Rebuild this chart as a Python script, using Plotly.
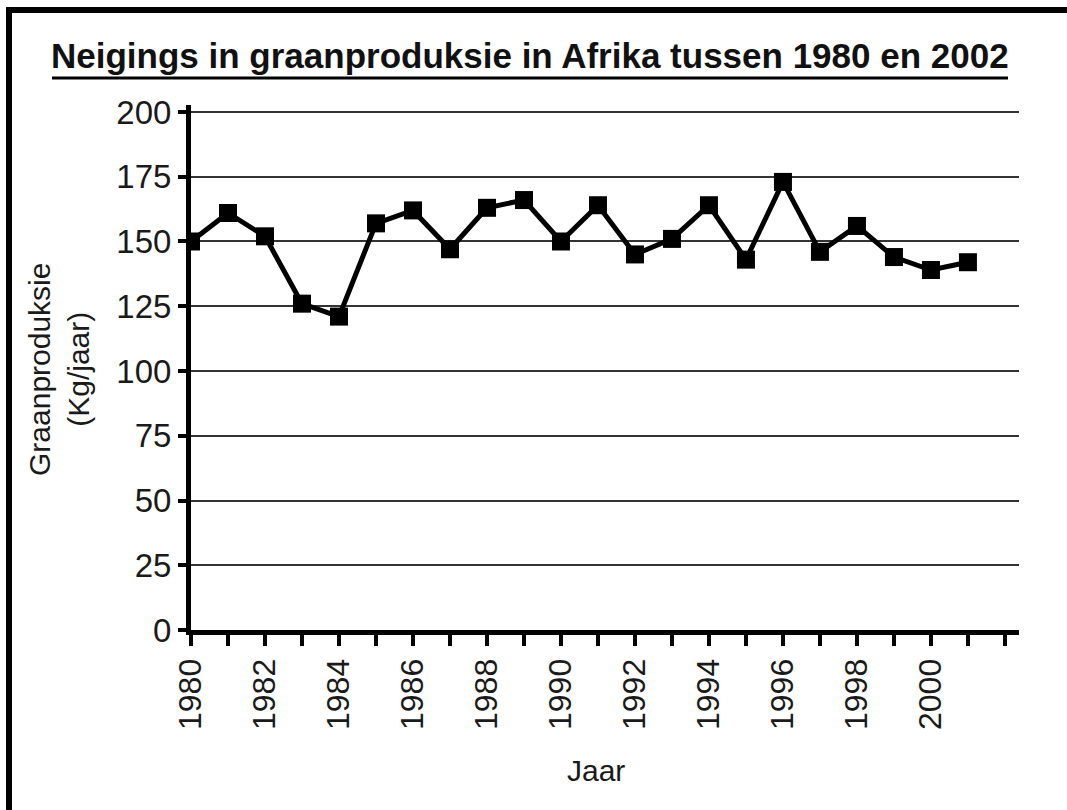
import plotly.graph_objects as go

years = list(range(1980, 2002))
production = [150, 161, 152, 126, 121, 157, 162, 147, 163, 166, 150, 164,
              145, 151, 164, 143, 173, 146, 156, 144, 139, 142]

tick_years = list(range(1980, 2003))
tick_labels = [str(y) if (y % 2 == 0 and y <= 2000) else "" for y in tick_years]
y_ticks = [0, 25, 50, 75, 100, 125, 150, 175, 200]

title_text = "Neigings in graanproduksie in Afrika tussen 1980 en 2002"
y_title = "Graanproduksie<br>(Kg/jaar)"
x_title = "Jaar"

W, H = 1067, 810
L, R, T, B = 191, 48, 105, 180
PW, PH = W - L - R, H - T - B

def px(x):
    return (x - L) / PW

def py(y):
    return (H - B - y) / PH

FONT = "Liberation Sans, Arial, sans-serif"

fig = go.Figure()
fig.add_trace(go.Scatter(
    x=years, y=production, mode="lines+markers",
    line=dict(color="black", width=5),
    marker=dict(symbol="square", size=18, color="black"),
    showlegend=False, hoverinfo="x+y",
))

fig.update_layout(
    width=W, height=H,
    margin=dict(l=L, r=R, t=T, b=B),
    paper_bgcolor="white", plot_bgcolor="white",
    font=dict(family=FONT, color="#1a1a1a"),
    xaxis=dict(
        range=[1980, 2002.38], tickmode="array", tickvals=tick_years,
        ticktext=tick_labels, tickangle=-90, ticks="outside", ticklen=11,
        tickwidth=4, tickcolor="black", showline=True, linewidth=5,
        linecolor="black", showgrid=False, zeroline=False,
        tickfont=dict(size=32, family=FONT, color="#1a1a1a"),
    ),
    yaxis=dict(
        range=[0, 202.7], tickmode="array", tickvals=y_ticks,
        ticks="outside", ticklen=8, tickwidth=4, tickcolor="black",
        showline=True, linewidth=5, linecolor="black",
        showgrid=True, gridcolor="#333333", gridwidth=2, zeroline=False,
        tickfont=dict(size=33, family=FONT, color="#1a1a1a"),
    ),
    shapes=[
        dict(type="line", xref="paper", yref="paper",
             x0=px(9), x1=px(9), y0=py(7), y1=py(H + 5),
             line=dict(color="black", width=6)),
        dict(type="line", xref="paper", yref="paper",
             x0=px(6), x1=px(W + 5), y0=py(10), y1=py(10),
             line=dict(color="black", width=6)),
        dict(type="line", xref="paper", yref="paper",
             x0=px(52), x1=px(1008), y0=py(78), y1=py(78),
             line=dict(color="black", width=3)),
    ],
    annotations=[
        dict(text="<b>" + title_text + "</b>", xref="paper", yref="paper",
             x=px(530), y=py(77), xanchor="center", yanchor="bottom",
             showarrow=False, font=dict(size=35, family=FONT, color="#111")),
        dict(text=y_title, xref="paper", yref="paper", x=px(59), y=py(370),
             xanchor="center", yanchor="middle", textangle=-90,
             showarrow=False, font=dict(size=30, family=FONT, color="#1a1a1a")),
        dict(text=x_title, xref="paper", yref="paper", x=px(596), y=py(770),
             xanchor="center", yanchor="middle", showarrow=False,
             font=dict(size=30, family=FONT, color="#1a1a1a")),
    ],
)

fig.write_html(
    "out.html",
    config={"displayModeBar": False},
    post_script="document.body.style.margin='0';document.body.style.overflow='hidden';",
)
